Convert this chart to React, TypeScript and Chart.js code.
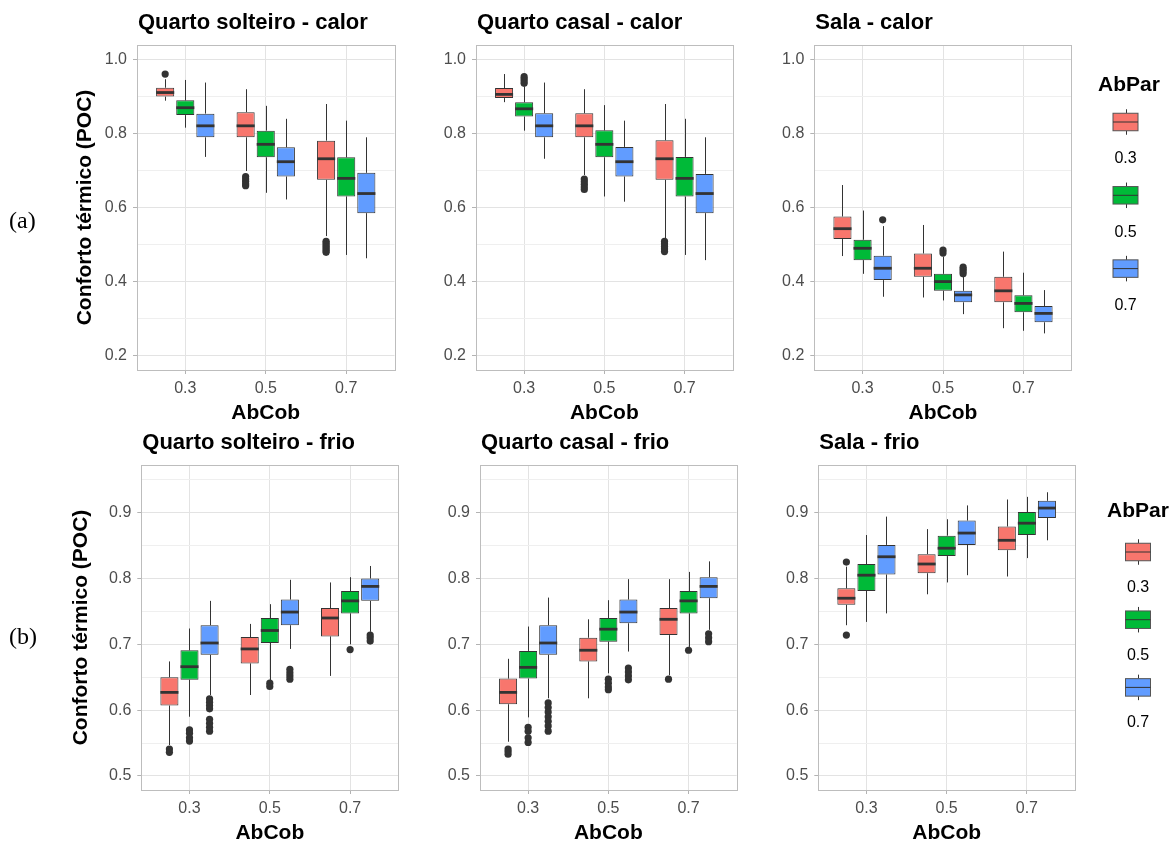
import React, { useEffect, useRef } from "react";
import { Chart, registerables } from "chart.js";

Chart.register(...registerables);

const FONT = "'Liberation Sans', Arial, Helvetica, sans-serif";
const SERIF = "'Liberation Serif', 'Times New Roman', serif";

// ---- categories / series ----
const abCobCategories = ["0.3", "0.5", "0.7"];
const abParSeries = ["0.3", "0.5", "0.7"];
const abParColors = ["#F8766D", "#00BA38", "#619CFF"];

// ---- y tick values / labels ----
const calorYTicks = [0.2, 0.3, 0.4, 0.5, 0.6, 0.7, 0.8, 0.9, 1.0];
const calorYLabels = ["0.2", "", "0.4", "", "0.6", "", "0.8", "", "1.0"];
const frioYTicks = [0.5, 0.55, 0.6, 0.65, 0.7, 0.75, 0.8, 0.85, 0.9, 0.95];
const frioYLabels = ["0.5", "", "0.6", "", "0.7", "", "0.8", "", "0.9", ""];

// ---- box statistics: [series AbPar][category AbCob] = [lower whisker, Q1, median, Q3, upper whisker] ----
const qsCalorBoxes = [
  [[0.89, 0.901, 0.912, 0.925, 0.948], [0.7, 0.791, 0.822, 0.859, 0.921], [0.524, 0.676, 0.733, 0.782, 0.881]],
  [[0.817, 0.851, 0.871, 0.891, 0.946], [0.641, 0.737, 0.772, 0.809, 0.876], [0.473, 0.631, 0.68, 0.737, 0.836]],
  [[0.738, 0.791, 0.822, 0.855, 0.939], [0.623, 0.685, 0.725, 0.764, 0.841], [0.464, 0.586, 0.639, 0.695, 0.791]],
];
const qsCalorOutliers = [
  [[0.962], [0.685, 0.678, 0.672, 0.665, 0.66], [0.51, 0.505, 0.5, 0.495, 0.49, 0.485, 0.48]],
  [[], [], []],
  [[], [], []],
];

const qcCalorBoxes = [
  [[0.886, 0.897, 0.907, 0.924, 0.962], [0.689, 0.791, 0.822, 0.856, 0.921], [0.518, 0.676, 0.733, 0.783, 0.881]],
  [[0.809, 0.847, 0.868, 0.886, 0.928], [0.631, 0.737, 0.772, 0.81, 0.878], [0.473, 0.631, 0.68, 0.738, 0.841]],
  [[0.733, 0.791, 0.822, 0.856, 0.939], [0.617, 0.685, 0.725, 0.765, 0.836], [0.459, 0.586, 0.639, 0.692, 0.791]],
];
const qcCalorOutliers = [
  [[], [0.678, 0.671, 0.664, 0.657, 0.65], [0.51, 0.503, 0.496, 0.489, 0.482]],
  [[0.955, 0.949, 0.943, 0.937], [], []],
  [[], [], []],
];

const salaCalorBoxes = [
  [[0.47, 0.516, 0.544, 0.577, 0.662], [0.358, 0.414, 0.437, 0.477, 0.554], [0.275, 0.345, 0.376, 0.414, 0.482]],
  [[0.422, 0.459, 0.491, 0.514, 0.593], [0.35, 0.376, 0.401, 0.422, 0.468], [0.268, 0.318, 0.342, 0.364, 0.425]],
  [[0.36, 0.405, 0.437, 0.471, 0.551], [0.313, 0.345, 0.365, 0.376, 0.414], [0.261, 0.291, 0.315, 0.335, 0.378]],
];
const salaCalorOutliers = [
  [[], [], []],
  [[], [0.486, 0.478], []],
  [[0.568], [0.44, 0.434, 0.428, 0.422], []],
];

const qsFrioBoxes = [
  [[0.547, 0.607, 0.627, 0.65, 0.674], [0.623, 0.671, 0.693, 0.711, 0.731], [0.652, 0.712, 0.74, 0.755, 0.794]],
  [[0.59, 0.646, 0.666, 0.691, 0.724], [0.645, 0.702, 0.721, 0.74, 0.761], [0.7, 0.747, 0.766, 0.781, 0.802]],
  [[0.623, 0.684, 0.702, 0.729, 0.766], [0.693, 0.729, 0.749, 0.768, 0.798], [0.719, 0.766, 0.788, 0.8, 0.819]],
];
const qsFrioOutliers = [
  [[0.541, 0.536], [], []],
  [[0.57, 0.565, 0.558, 0.553], [0.641, 0.636], [0.692]],
  [[0.617, 0.612, 0.607, 0.602, 0.586, 0.58, 0.574, 0.568], [0.662, 0.657, 0.652, 0.647], [0.714, 0.71, 0.705]],
];

const qcFrioBoxes = [
  [[0.552, 0.609, 0.627, 0.648, 0.678], [0.618, 0.674, 0.691, 0.71, 0.738], [0.653, 0.714, 0.738, 0.755, 0.799]],
  [[0.589, 0.648, 0.665, 0.69, 0.727], [0.656, 0.704, 0.723, 0.74, 0.767], [0.696, 0.747, 0.766, 0.781, 0.81]],
  [[0.618, 0.684, 0.702, 0.729, 0.771], [0.689, 0.732, 0.749, 0.768, 0.799], [0.722, 0.77, 0.788, 0.802, 0.826]],
];
const qcFrioOutliers = [
  [[0.541, 0.537, 0.533], [], [0.647]],
  [[0.574, 0.568, 0.558, 0.551], [0.647, 0.641, 0.635, 0.631], [0.691]],
  [[0.611, 0.604, 0.597, 0.59, 0.583, 0.576, 0.568], [0.664, 0.658, 0.652, 0.646], [0.716, 0.71, 0.704]],
];

const salaFrioBoxes = [
  [[0.729, 0.76, 0.77, 0.785, 0.818], [0.776, 0.808, 0.822, 0.837, 0.875], [0.803, 0.843, 0.858, 0.879, 0.92]],
  [[0.734, 0.781, 0.805, 0.822, 0.866], [0.794, 0.834, 0.846, 0.865, 0.89], [0.831, 0.866, 0.884, 0.901, 0.924]],
  [[0.747, 0.806, 0.833, 0.851, 0.894], [0.805, 0.851, 0.869, 0.888, 0.911], [0.858, 0.892, 0.907, 0.918, 0.931]],
];
const salaFrioOutliers = [
  [[0.825, 0.714], [], []],
  [[], [], []],
  [[], [], []],
];

// ---- layout ----
const W = 1170;
const H = 842;

type Row = { top: number; bottom: number; yMin: number; yMax: number; ticks: number[]; labels: string[] };
const calorRow: Row = { top: 45, bottom: 370, yMin: 0.162, yMax: 1.0405, ticks: calorYTicks, labels: calorYLabels };
const frioRow: Row = { top: 465, bottom: 790, yMin: 0.4787, yMax: 0.9724, ticks: frioYTicks, labels: frioYLabels };

type LegendSpec = { titleX: number; titleY: number; keyX: number; keyY0: number; step: number; labelDy: number };
type PanelSpec = {
  title: string;
  boxes: number[][][];
  outliers: number[][][];
  row: Row;
  left: number;
  right: number;
  yTitle: boolean;
  yAxisWidth: number;
  letter?: string;
  letterY?: number;
  legend?: LegendSpec;
};

const panels: PanelSpec[] = [
  { title: "Quarto solteiro - calor", boxes: qsCalorBoxes, outliers: qsCalorOutliers, row: calorRow, left: 137, right: 394.5, yTitle: true, yAxisWidth: 60.4, letter: "(a)", letterY: 222 },
  { title: "Quarto casal - calor", boxes: qcCalorBoxes, outliers: qcCalorOutliers, row: calorRow, left: 476, right: 732.7, yTitle: false, yAxisWidth: 45 },
  { title: "Sala - calor", boxes: salaCalorBoxes, outliers: salaCalorOutliers, row: calorRow, left: 814.3, right: 1071.7, yTitle: false, yAxisWidth: 45,
    legend: { titleX: 1098, titleY: 85, keyX: 1113, keyY0: 122, step: 73.3, labelDy: 37 } },
  { title: "Quarto solteiro - frio", boxes: qsFrioBoxes, outliers: qsFrioOutliers, row: frioRow, left: 141.3, right: 398.3, yTitle: true, yAxisWidth: 68, letter: "(b)", letterY: 638 },
  { title: "Quarto casal - frio", boxes: qcFrioBoxes, outliers: qcFrioOutliers, row: frioRow, left: 480, right: 736.7, yTitle: false, yAxisWidth: 45 },
  { title: "Sala - frio", boxes: salaFrioBoxes, outliers: salaFrioOutliers, row: frioRow, left: 818.3, right: 1075, yTitle: false, yAxisWidth: 45,
    legend: { titleX: 1107, titleY: 511.7, keyX: 1125.5, keyY0: 552, step: 67.7, labelDy: 35.5 } },
];

const X_AXIS_HEIGHT = 51.7;

// whiskers, medians and outliers drawn from the bar elements and the y scale
const boxplotExtras = {
  id: "boxplotExtras",
  afterDatasetsDraw(chart: any) {
    const ctx = chart.ctx;
    const y = chart.scales.y;
    chart.data.datasets.forEach((ds: any, d: number) => {
      const meta = chart.getDatasetMeta(d);
      meta.data.forEach((el: any, i: number) => {
        const st = ds.boxStats[i];
        const out = ds.outlierValues[i];
        const props = el.getProps(["x", "width"], true);
        const cx = Math.round(props.x) + 0.5;
        const w = props.width;
        ctx.save();
        ctx.strokeStyle = "#333333";
        ctx.lineWidth = 1;
        ctx.beginPath();
        ctx.moveTo(cx, y.getPixelForValue(st[3]));
        ctx.lineTo(cx, y.getPixelForValue(st[4]));
        ctx.moveTo(cx, y.getPixelForValue(st[1]));
        ctx.lineTo(cx, y.getPixelForValue(st[0]));
        ctx.stroke();
        const my = y.getPixelForValue(st[2]);
        ctx.lineWidth = 2.8;
        ctx.beginPath();
        ctx.moveTo(props.x - w / 2, my);
        ctx.lineTo(props.x + w / 2, my);
        ctx.stroke();
        ctx.fillStyle = "#333333";
        out.forEach((v: number) => {
          ctx.beginPath();
          ctx.arc(props.x, y.getPixelForValue(v), 3.6, 0, Math.PI * 2);
          ctx.fill();
        });
        ctx.restore();
      });
    });
  },
};

function makeDecor(p: PanelSpec) {
  return {
    id: "panelDecor",
    afterDraw(chart: any) {
      const ctx = chart.ctx;
      const a = chart.chartArea;
      ctx.save();
      // panel border
      ctx.strokeStyle = "#BDBDBD";
      ctx.lineWidth = 1;
      ctx.strokeRect(Math.round(a.left) + 0.5, Math.round(a.top) + 0.5, Math.round(a.right - a.left), Math.round(a.bottom - a.top));
      // panel title
      ctx.fillStyle = "#000000";
      ctx.font = `bold 22px ${FONT}`;
      ctx.textAlign = "left";
      ctx.textBaseline = "middle";
      ctx.fillText(p.title, a.left + 1, a.top - 22);
      // row letter
      if (p.letter) {
        ctx.font = `24px ${SERIF}`;
        ctx.fillText(p.letter, 9, p.letterY);
      }
      // legend
      if (p.legend) {
        const L = p.legend;
        ctx.font = `bold 21px ${FONT}`;
        ctx.textAlign = "left";
        ctx.fillText("AbPar", L.titleX, L.titleY);
        const kw = 25;
        const kh = 17.5;
        abParSeries.forEach((name, s) => {
          const cy = L.keyY0 + s * L.step;
          const kx = L.keyX;
          const mid = kx + kw / 2;
          ctx.strokeStyle = "#333333";
          ctx.lineWidth = 1;
          ctx.beginPath();
          ctx.moveTo(Math.round(mid) + 0.5, cy - kh / 2 - 4);
          ctx.lineTo(Math.round(mid) + 0.5, cy - kh / 2);
          ctx.moveTo(Math.round(mid) + 0.5, cy + kh / 2);
          ctx.lineTo(Math.round(mid) + 0.5, cy + kh / 2 + 4);
          ctx.stroke();
          ctx.fillStyle = abParColors[s];
          ctx.fillRect(kx, cy - kh / 2, kw, kh);
          ctx.strokeStyle = "#555555";
          ctx.strokeRect(kx, cy - kh / 2, kw, kh);
          ctx.strokeStyle = "#333333";
          ctx.beginPath();
          ctx.moveTo(kx, cy);
          ctx.lineTo(kx + kw, cy);
          ctx.stroke();
          ctx.fillStyle = "#000000";
          ctx.font = `16px ${FONT}`;
          ctx.textAlign = "center";
          ctx.fillText(name, mid, cy + L.labelDy);
        });
      }
      ctx.restore();
    },
  };
}

function buildConfig(p: PanelSpec): any {
  const row = p.row;
  const padLeft = p.left - p.yAxisWidth;
  return {
    type: "bar",
    data: {
      datasets: abParSeries.map((name, s) => ({
        label: name,
        data: abCobCategories.map((_, i) => ({ x: i, y: [p.boxes[s][i][1], p.boxes[s][i][3]] })),
        backgroundColor: abParColors[s],
        borderColor: "#333333",
        borderWidth: 1,
        borderSkipped: false,
        categoryPercentage: 0.75,
        barPercentage: 0.9,
        boxStats: p.boxes[s],
        outlierValues: p.outliers[s],
      })),
    },
    options: {
      responsive: false,
      maintainAspectRatio: false,
      animation: false,
      devicePixelRatio: 1,
      events: [],
      layout: {
        padding: {
          left: padLeft,
          top: row.top,
          right: W - p.right,
          bottom: H - row.bottom - X_AXIS_HEIGHT,
        },
      },
      plugins: {
        legend: { display: false },
        tooltip: { enabled: false },
        title: { display: false },
      },
      scales: {
        x: {
          type: "linear",
          min: -0.6,
          max: 2.6,
          offset: false,
          afterBuildTicks: (s: any) => {
            s.ticks = abCobCategories.map((_, i) => ({ value: i }));
          },
          ticks: {
            callback: (_v: any, idx: number) => abCobCategories[idx],
            color: "#4D4D4D",
            font: { size: 16, family: FONT },
            padding: 5,
            autoSkip: false,
            maxRotation: 0,
            minRotation: 0,
          },
          grid: { offset: false, color: "#E3E3E3", lineWidth: 1, tickLength: 4, tickColor: "#B3B3B3" },
          border: { display: false },
          title: {
            display: true,
            text: "AbCob",
            color: "#000000",
            font: { size: 21, weight: "bold", family: FONT, lineHeight: 0.8 },
            padding: 0,
          },
          afterFit: (s: any) => {
            s.height = X_AXIS_HEIGHT;
          },
        },
        y: {
          type: "linear",
          min: row.yMin,
          max: row.yMax,
          afterBuildTicks: (s: any) => {
            s.ticks = row.ticks.map((v) => ({ value: v }));
          },
          ticks: {
            callback: (_v: any, idx: number) => row.labels[idx],
            color: "#4D4D4D",
            font: { size: 16, family: FONT },
            padding: 6,
            autoSkip: false,
          },
          grid: {
            color: (c: any) => (row.labels[c.index] ? "#E3E3E3" : "#EFEFEF"),
            lineWidth: 1,
            tickLength: 4,
            tickColor: (c: any) => (row.labels[c.index] ? "#B3B3B3" : "rgba(0,0,0,0)"),
          },
          border: { display: false },
          title: {
            display: p.yTitle,
            text: "Conforto térmico (POC)",
            color: "#000000",
            font: { size: 21, weight: "bold", family: FONT, lineHeight: 0.8 },
            padding: 0,
          },
          afterFit: (s: any) => {
            s.width = p.yAxisWidth;
          },
        },
      },
    },
    plugins: [boxplotExtras, makeDecor(p)],
  };
}

function Panel({ spec }: { spec: PanelSpec }) {
  const ref = useRef<HTMLCanvasElement | null>(null);
  useEffect(() => {
    if (!ref.current) return;
    const chart = new Chart(ref.current, buildConfig(spec));
    return () => chart.destroy();
  }, [spec]);
  return (
    <canvas
      ref={ref}
      width={W}
      height={H}
      style={{ position: "absolute", left: 0, top: 0, width: W, height: H }}
    />
  );
}

export default function App() {
  return (
    <div
      style={{
        position: "absolute",
        left: 0,
        top: 0,
        width: W,
        height: H,
        background: "#ffffff",
        overflow: "hidden",
      }}
    >
      {panels.map((p, i) => (
        <Panel key={i} spec={p} />
      ))}
    </div>
  );
}
